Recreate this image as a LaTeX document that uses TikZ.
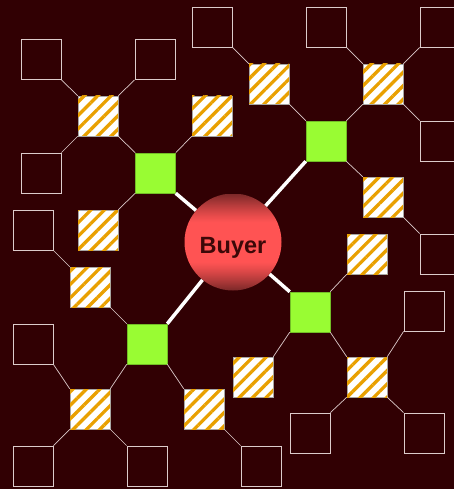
\documentclass[tikz,border=0pt]{standalone}
\usepackage{fontspec}
\setmainfont{Liberation Sans}
\usepackage{xcolor}
\usetikzlibrary{patterns.meta}
\definecolor{bgred}{HTML}{310003}
\definecolor{hubgreen}{HTML}{99FC33}
\definecolor{stripe}{HTML}{E9A000}
\definecolor{wire}{HTML}{DCCBCB}
\definecolor{balldark}{HTML}{7A2828}
\definecolor{ballmid}{HTML}{FF5353}
\definecolor{balltext}{HTML}{3C0808}

\begin{document}
\begin{tikzpicture}[
        x=1pt, y=-1pt,
        box/.style={rectangle, minimum size=40pt, inner sep=0pt},
        leaf/.style={box, draw=wire, line width=0.8pt},
        mid/.style={box, draw=gray!70, line width=0.5pt, fill=white,
            postaction={pattern={Lines[angle=45,distance=9.5pt,line width=3.3pt]}, pattern color=stripe}},
        hub/.style={box, fill=hubgreen, draw=hubgreen!75!black, line width=0.5pt},
        buyer/.style={circle, minimum size=97pt, inner sep=0pt, text height=22pt, text depth=0pt,
            font=\bfseries\fontsize{23.5}{26}\selectfont, text=balltext},
        link/.style={wire, line width=0.7pt},
        trunk/.style={white, line width=3.5pt}
    ]
    % Background
    \fill[bgred] (0,0) rectangle (454,489);
    \useasboundingbox (0,0) rectangle (454,489);
    \clip (0,0) rectangle (454,489);

    % Root (ball with vertical gradient)
    \coordinate (ballc) at (233,242);
    \begin{scope}
        \clip (ballc) circle[radius=48.5pt];
        \foreach \i in {0,...,96} {
            \pgfmathsetmacro\p{min(100,125*sin(1.8557*(\i+0.5)))}
            \fill[ballmid!\p!balldark] ([shift={(-49,\i-48.5)}]ballc) rectangle ++(98,1.3);
        }
    \end{scope}
    \node[buyer] (buyer) at (ballc) {Buyer};

    % Hubs
    \node[hub] (hubA) at (155.5,173) {};
    \node[hub] (hubB) at (326,141) {};
    \node[hub] (hubC) at (147,344) {};
    \node[hub] (hubD) at (310,312) {};

    % Striped layer
    \node[mid] (midA1) at (98,116) {};
    \node[mid] (midA2) at (212,116) {};
    \node[mid] (midA3) at (98,230) {};
    \node[mid] (midB1) at (269,84) {};
    \node[mid] (midB2) at (383,84) {};
    \node[mid] (midB3) at (383,197) {};
    \node[mid] (midC1) at (90,287) {};
    \node[mid] (midC2) at (90,409) {};
    \node[mid] (midC3) at (204,409) {};
    \node[mid] (midD1) at (367,254) {};
    \node[mid] (midD2) at (253,377) {};
    \node[mid] (midD3) at (367,377) {};

    % Empty leaves
    \node[leaf] (leafA1) at (41,59.5) {};
    \node[leaf] (leafA2) at (155,59.5) {};
    \node[leaf] (leafA3) at (41,173) {};
    \node[leaf] (leafB1) at (212,27) {};
    \node[leaf] (leafB2) at (326,27) {};
    \node[leaf] (leafB3) at (440,27) {};
    \node[leaf] (leafB4) at (440,141) {};
    \node[leaf] (leafB5) at (440,254) {};
    \node[leaf] (leafC1) at (33,230) {};
    \node[leaf] (leafC2) at (33,344) {};
    \node[leaf] (leafC3) at (33,466) {};
    \node[leaf] (leafC4) at (147,466) {};
    \node[leaf] (leafC5) at (261,466) {};
    \node[leaf] (leafD1) at (424,311) {};
    \node[leaf] (leafD2) at (310,433) {};
    \node[leaf] (leafD3) at (424,433) {};

    % Buyer to hubs (thick)
    \draw[trunk] (hubA.south east) -- (buyer);
    \draw[trunk] (hubB.south west) -- (buyer);
    \draw[trunk] (hubC.north east) -- (buyer);
    \draw[trunk] (hubD.north west) -- (buyer);

    % Hubs to striped boxes
    \draw[link] (hubA.north west) -- (midA1.south east);
    \draw[link] (hubA.north east) -- (midA2.south west);
    \draw[link] (hubA.south west) -- (midA3.north east);
    \draw[link] (hubB.north west) -- (midB1.south east);
    \draw[link] (hubB.north east) -- (midB2.south west);
    \draw[link] (hubB.south east) -- (midB3.north west);
    \draw[link] (hubC.north west) -- (midC1.south east);
    \draw[link] (hubC.south west) -- (midC2.north east);
    \draw[link] (hubC.south east) -- (midC3.north west);
    \draw[link] (hubD.north east) -- (midD1.south west);
    \draw[link] (hubD.south west) -- (midD2.north east);
    \draw[link] (hubD.south east) -- (midD3.north west);

    % Striped boxes to leaves
    \draw[link] (midA1.north west) -- (leafA1.south east);
    \draw[link] (midA1.north east) -- (leafA2.south west);
    \draw[link] (midA1.south west) -- (leafA3.north east);
    \draw[link] (midB1.north west) -- (leafB1.south east);
    \draw[link] (midB2.north west) -- (leafB2.south east);
    \draw[link] (midB2.north east) -- (leafB3.south west);
    \draw[link] (midB2.south east) -- (leafB4.north west);
    \draw[link] (midB3.south east) -- (leafB5.north west);
    \draw[link] (midC1.north west) -- (leafC1.south east);
    \draw[link] (midC2.north west) -- (leafC2.south east);
    \draw[link] (midC2.south west) -- (leafC3.north east);
    \draw[link] (midC2.south east) -- (leafC4.north west);
    \draw[link] (midC3.south east) -- (leafC5.north west);
    \draw[link] (midD3.north east) -- (leafD1.south west);
    \draw[link] (midD3.south west) -- (leafD2.north east);
    \draw[link] (midD3.south east) -- (leafD3.north west);
\end{tikzpicture}
\end{document}
